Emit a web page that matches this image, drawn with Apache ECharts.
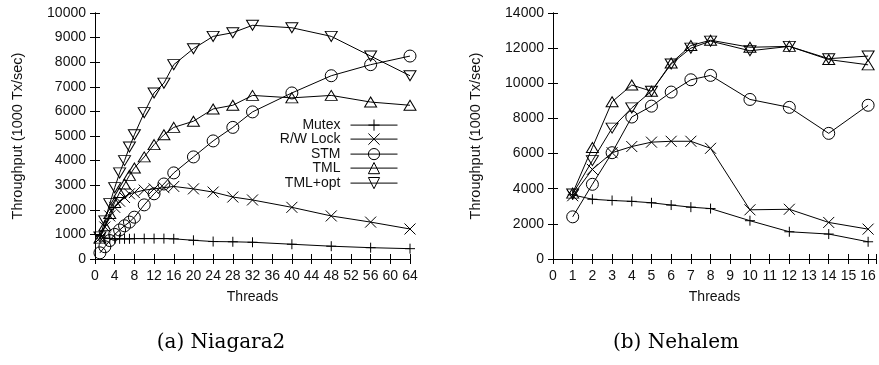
<!DOCTYPE html>
<html>
<head>
<meta charset="utf-8">
<script src="https://cdn.jsdelivr.net/npm/echarts@6/dist/echarts.min.js"></script>
<style>
  html, body { margin: 0; padding: 0; background: #fff; }
  #chart { width: 879px; height: 365px; }
</style>
</head>
<body>
<div id="chart"></div>
<script>
// Niagara2 (left panel)
const niagaraThreads = [1, 2, 3, 4, 5, 6, 7, 8, 10, 12, 14, 16, 20, 24, 28, 32, 40, 48, 56, 64]
const niagaraMutex = [950, 850, 830, 820, 820, 820, 820, 830, 830, 830, 830, 820, 760, 710, 700, 680, 600, 520, 460, 420]
const niagaraRwLock = [850, 1300, 1750, 2100, 2350, 2500, 2650, 2700, 2800, 2850, 2900, 2950, 2850, 2720, 2520, 2400, 2100, 1750, 1500, 1220]
const niagaraStm = [250, 500, 750, 1000, 1180, 1350, 1500, 1700, 2200, 2650, 3050, 3500, 4150, 4800, 5350, 5980, 6750, 7450, 7900, 8250]
const niagaraTml = [850, 1350, 1850, 2300, 2700, 3050, 3400, 3700, 4150, 4650, 5050, 5350, 5600, 6100, 6250, 6650, 6550, 6650, 6380, 6250]
const niagaraTmlOpt = [900, 1550, 2250, 2900, 3500, 4000, 4550, 5050, 5950, 6750, 7150, 7900, 8550, 9050, 9200, 9500, 9400, 9050, 8250, 7450]

// Nehalem (right panel)
const nehalemThreads = [1, 2, 3, 4, 5, 6, 7, 8, 10, 12, 14, 16]
const nehalemMutex = [3650, 3400, 3330, 3280, 3200, 3070, 2950, 2870, 2180, 1550, 1420, 980]
const nehalemRwLock = [3600, 5100, 6050, 6400, 6650, 6700, 6700, 6300, 2800, 2830, 2080, 1700]
const nehalemStm = [2400, 4250, 6050, 8080, 8700, 9500, 10200, 10450, 9080, 8630, 7150, 8750]
const nehalemTml = [3750, 6350, 8950, 9900, 9550, 11150, 12150, 12450, 12050, 12100, 11350, 11050]
const nehalemTmlOpt = [3700, 5600, 7450, 8600, 9550, 11100, 12000, 12400, 11850, 12100, 11400, 11550]

const seriesNames = ["Mutex", "R/W Lock", "STM", "TML", "TML+opt"]
const captions = ["(a) Niagara2", "(b) Nehalem"]
const yTitle = "Throughput (1000 Tx/sec)"
const xTitle = "Threads"

const symbols = {
  "Mutex": "path://M0,5L10,5M5,0L5,10",
  "R/W Lock": "path://M0,0L10,10M10,0L0,10",
  "STM": "path://M10,5A5,5,0,1,1,0,5A5,5,0,1,1,10,5Z",
  "TML": "path://M5,0L10,8.5L0,8.5Z",
  "TML+opt": "path://M0,0L10,0L5,8.5Z",
}
const symbolSizes = {
  "Mutex": [10, 10],
  "R/W Lock": [11, 11],
  "STM": [12, 12],
  "TML": [12, 10],
  "TML+opt": [12, 10],
}

const font = "Liberation Sans"
const ink = "#111"

const chart = echarts.init(document.getElementById("chart"), null, { renderer: "canvas" })

function pairs(xs, ys) {
  return xs.map((x, i) => [x, ys[i]])
}

function makeSeries(name, xs, ys, axisIndex) {
  return {
    name,
    type: "line",
    xAxisIndex: axisIndex,
    yAxisIndex: axisIndex,
    symbol: symbols[name],
    symbolSize: symbolSizes[name],
    itemStyle: { color: "none", borderColor: "#000", borderWidth: 1 },
    lineStyle: { color: "#000", width: 1 },
    emphasis: { disabled: true },
    animation: false,
    data: pairs(xs, ys),
  }
}

function xAxisPair(gridIndex, max, interval) {
  const base = {
    gridIndex,
    type: "value",
    min: 0,
    max,
    interval,
    splitLine: { show: false },
    axisLine: { lineStyle: { color: "#000", width: 1 } },
    axisTick: { inside: true, length: 5, lineStyle: { color: "#000" } },
  }
  return [
    {
      ...base,
      position: "bottom",
      name: xTitle,
      nameLocation: "middle",
      nameGap: 31,
      nameTextStyle: { fontFamily: font, fontSize: 14, color: ink },
      axisLabel: {
        fontFamily: font,
        fontSize: 14,
        color: ink,
        margin: 10,
        formatter: (v) => (Number.isInteger(v) ? String(v) : ""),
      },
    },
    { ...base, position: "top", axisLabel: { show: false } },
  ]
}

function yAxisPair(gridIndex, max, interval) {
  const base = {
    gridIndex,
    type: "value",
    min: 0,
    max,
    interval,
    splitLine: { show: false },
    axisLine: { show: true, lineStyle: { color: "#000", width: 1 } },
    axisTick: { show: true, inside: true, length: 5, lineStyle: { color: "#000" } },
  }
  return [
    {
      ...base,
      position: "left",
      name: yTitle,
      nameLocation: "middle",
      nameGap: 70,
      nameTextStyle: { fontFamily: font, fontSize: 14.5, color: ink },
      axisLabel: {
        fontFamily: font,
        fontSize: 14,
        color: ink,
        margin: 9,
        formatter: (v) => String(v),
      },
    },
    { ...base, position: "right", axisLabel: { show: false } },
  ]
}

const legendRows = [124, 138, 153, 167, 182]

chart.setOption({
  backgroundColor: "#fff",
  animation: false,
  grid: [
    { left: 95, top: 13, width: 315, height: 246 },
    { left: 553, top: 13, width: 325, height: 246 },
  ],
  xAxis: [...xAxisPair(0, 64, 4), ...xAxisPair(1, 16.4, 1)],
  yAxis: [...yAxisPair(0, 10000, 1000), ...yAxisPair(1, 14000, 2000)],
  legend: seriesNames.map((name, i) => ({
    data: [name],
    orient: "vertical",
    align: "right",
    right: 879 - 398,
    top: legendRows[i] - 7,
    itemWidth: 47,
    itemHeight: 14,
    selectedMode: false,
    padding: 0,
    itemStyle: { color: "none", borderColor: "#000", borderWidth: 1 },
    lineStyle: { color: "#000", width: 1 },
    textStyle: { fontFamily: font, fontSize: 14, color: ink, padding: [0, 5, 0, 0] },
  })),
  series: [
    makeSeries("Mutex", niagaraThreads, niagaraMutex, 0),
    makeSeries("R/W Lock", niagaraThreads, niagaraRwLock, 0),
    makeSeries("STM", niagaraThreads, niagaraStm, 0),
    makeSeries("TML", niagaraThreads, niagaraTml, 0),
    makeSeries("TML+opt", niagaraThreads, niagaraTmlOpt, 0),
    makeSeries("Mutex", nehalemThreads, nehalemMutex, 2),
    makeSeries("R/W Lock", nehalemThreads, nehalemRwLock, 2),
    makeSeries("STM", nehalemThreads, nehalemStm, 2),
    makeSeries("TML", nehalemThreads, nehalemTml, 2),
    makeSeries("TML+opt", nehalemThreads, nehalemTmlOpt, 2),
  ],
  graphic: captions.map((text, i) => ({
    type: "text",
    x: i === 0 ? 221 : 676,
    y: 343,
    style: {
      text,
      font: "20px 'DejaVu Serif'",
      fill: "#000",
      textAlign: "center",
      textVerticalAlign: "middle",
    },
  })),
})
</script>
</body>
</html>
